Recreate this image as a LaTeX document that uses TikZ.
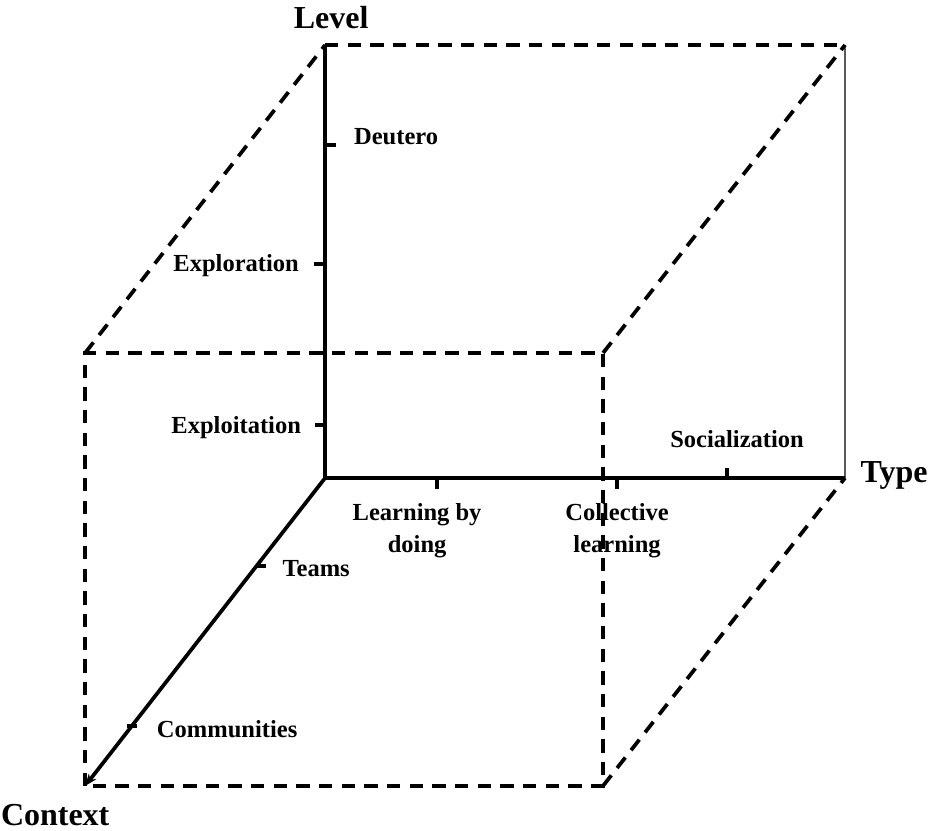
\documentclass[tikz,border=0pt]{standalone}
\usepackage{fontspec}
\setmainfont{Liberation Serif}
\usetikzlibrary{arrows.meta}

\tikzset{
  axisline/.style={line width=2.8pt},
  edgeline/.style={line width=2.8pt, dash pattern={on 10pt off 7pt}},
  tickline/.style={line width=2.6pt},
  ticklabel/.style={inner sep=0.75pt, font=\fontsize{18.4}{24}\selectfont\bfseries, align=center},
  axislabel/.style={inner sep=0.75pt, font=\fontsize{24}{26}\selectfont\bfseries}
}

\begin{document}
\begin{tikzpicture}[x=0.75pt,y=0.75pt,yscale=-1,xscale=1]
\path (0,0) rectangle (929,831); %set diagram size

%Corners
\coordinate (O) at (325,478);
\coordinate (lvl) at (325,45);
\coordinate (typ) at (845,478);
\coordinate (ctx) at (85,786);
\coordinate (bk) at (845,45);
\coordinate (ftl) at (85,353);
\coordinate (ftr) at (603,353);
\coordinate (fbr) at (603,786);

%Cube edges
\draw [edgeline] (lvl) -- (bk) ;
\draw [line width=1.1pt, color={rgb, 255:red, 90; green, 90; blue, 90 }] (bk) -- (typ) ;
\draw [edgeline] (ftl) -- (lvl) ;
\draw [edgeline] (ftr) -- (bk) ;
\draw [edgeline] (fbr) -- (typ) ;
\draw [edgeline] (ctx) -- (ftl) -- (ftr) -- (fbr) -- (ctx) ;

%Axes
\draw [axisline] (O) -- (lvl) ;
\draw [axisline] (O) -- (typ) ;
\draw [axisline, -{Stealth[length=9pt,width=7pt]}] (O) -- (ctx) ;

%Ticks
\coordinate (tdeu) at (325,145);
\coordinate (texr) at (325,264);
\coordinate (texl) at (325,425);
\coordinate (tlbd) at (437,478);
\coordinate (tcol) at (617,478);
\coordinate (tsoc) at (727,478);
\coordinate (ttea) at (261,566);
\coordinate (tcom) at (132,726);
\draw [tickline] (tdeu) -- ++(11,0) ;
\draw [tickline] (texr) -- ++(-11,0) ;
\draw [tickline] (texl) -- ++(-10,0) ;
\draw [tickline] (tlbd) -- ++(0,11) ;
\draw [tickline] (tcol) -- ++(0,11) ;
\draw [tickline] (tsoc) -- ++(0,-10) ;
\draw [tickline] (ttea) ++(-5,0) -- ++(10,0) ;
\draw [tickline] (tcom) ++(-5,0) -- ++(10,0) ;

% Axis labels
\node [axislabel] (levelname) at (331,18) {Level};
\node [axislabel] (typename) at (894,476) {Type};
\node [axislabel] (contextname) at (55,815) {Context};

% Tick labels
\node [ticklabel] (deutero) at (396,137) {Deutero};
\node [ticklabel] (exploration) at (236,266) {Exploration};
\node [ticklabel] (exploitation) at (236,428) {Exploitation};
\node [ticklabel] (socialization) at (737,439) {Socialization};
\node [ticklabel] (doing) at (417,531) {Learning by\\doing};
\node [ticklabel] (collective) at (617,531) {Collective\\learning};
\node [ticklabel] (teams) at (316,569) {Teams};
\node [ticklabel] (communities) at (227,729) {Communities};

\end{tikzpicture}
\end{document}
